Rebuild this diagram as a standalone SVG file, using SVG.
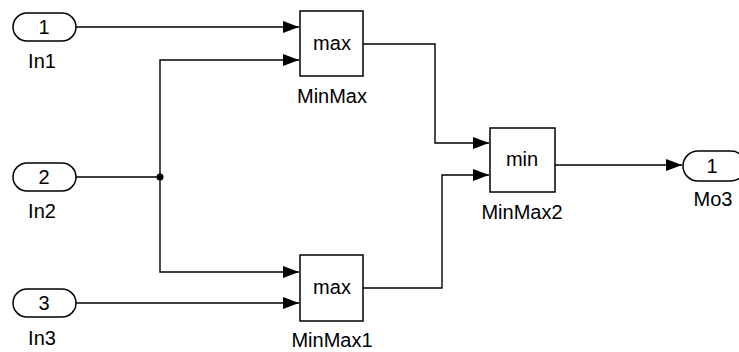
<svg xmlns="http://www.w3.org/2000/svg" width="739" height="352" viewBox="0 0 739 352">
<style>
text{font-family:"Liberation Sans",Arial,sans-serif;font-size:20px;fill:#000}
.b{fill:#fff;stroke:#000;stroke-width:1.5}
.w{fill:none;stroke:#000;stroke-width:1.4}
.c{text-anchor:middle}
</style>
<defs>
<marker id="ar" viewBox="0 0 16 12" refX="16" refY="6" markerWidth="16" markerHeight="12" markerUnits="userSpaceOnUse" orient="auto">
<path d="M0,0 L16,6 L0,12 Z" fill="#000"/>
</marker>
</defs>
<g id="connectors">
<path class="w" d="M76,27 H299" marker-end="url(#ar)"/>
<path class="w" d="M76,177 H160 V60 H299" marker-end="url(#ar)"/>
<path class="w" d="M160,177 V272 H299" marker-end="url(#ar)"/>
<path class="w" d="M76,303 H299" marker-end="url(#ar)"/>
<path class="w" d="M363,44 H435 V143 H489" marker-end="url(#ar)"/>
<path class="w" d="M363,288 H442 V175 H489" marker-end="url(#ar)"/>
<path class="w" d="M555,165 H682" marker-end="url(#ar)"/>
<circle cx="160" cy="177" r="3.5" fill="#000"/>
</g>
<g id="In1">
<rect class="b" x="13" y="13" width="63" height="28" rx="14"/>
<text class="c" x="44" y="34">1</text>
<text class="c" x="42" y="68">In1</text>
</g>
<g id="In2">
<rect class="b" x="13" y="163" width="63" height="28" rx="14"/>
<text class="c" x="44" y="184">2</text>
<text class="c" x="42" y="218">In2</text>
</g>
<g id="In3">
<rect class="b" x="13" y="289" width="63" height="28" rx="14"/>
<text class="c" x="44" y="310">3</text>
<text class="c" x="42" y="345">In3</text>
</g>
<g id="MinMax">
<rect class="b" x="300" y="11" width="63" height="65"/>
<text class="c" x="332" y="50">max</text>
<text class="c" x="332" y="103">MinMax</text>
</g>
<g id="MinMax1">
<rect class="b" x="300" y="255" width="63" height="66"/>
<text class="c" x="332" y="294">max</text>
<text class="c" x="332" y="347">MinMax1</text>
</g>
<g id="MinMax2">
<rect class="b" x="490" y="128" width="65" height="64"/>
<text class="c" x="522" y="166">min</text>
<text class="c" x="522" y="219">MinMax2</text>
</g>
<g id="Mo3">
<rect class="b" x="683" y="151" width="63" height="30" rx="15"/>
<text class="c" x="712" y="173">1</text>
<text class="c" x="713" y="206">Mo3</text>
</g>
</svg>
